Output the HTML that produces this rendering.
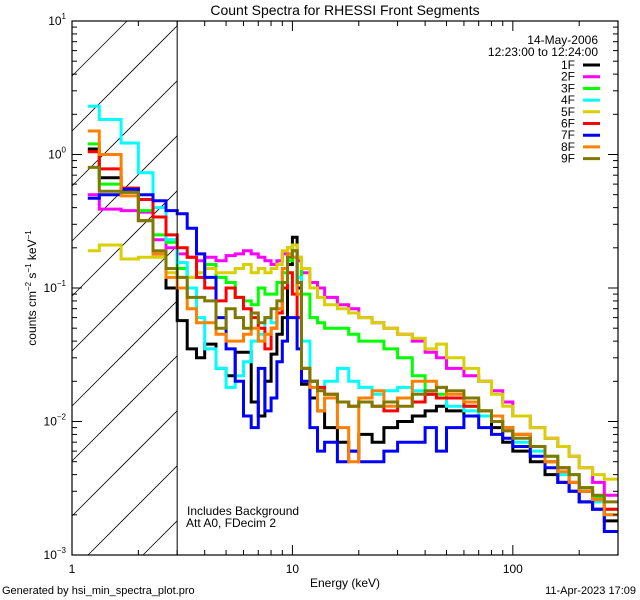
<!DOCTYPE html>
<html><head><meta charset="utf-8"><style>
html,body{margin:0;padding:0;background:#fff;width:640px;height:600px;overflow:hidden;}
svg{display:block;font-family:"Liberation Sans",sans-serif;}
</style></head><body>
<svg id="chart" width="640" height="600" viewBox="0 0 640 600">
<rect width="640" height="600" fill="#fff"/>
<defs><clipPath id="plotclip"><rect x="72" y="21" width="546" height="534"/></clipPath></defs>
<text x="345" y="15" text-anchor="middle" font-size="14">Count Spectra for RHESSI Front Segments</text>
<g id="hatch"></g>
<g id="series" clip-path="url(#plotclip)"></g>
<g id="axes"></g>
<text x="598" y="44" text-anchor="end" font-size="12">14-May-2006</text>
<text x="598" y="56" text-anchor="end" font-size="12">12:23:00 to 12:24:00</text>
<g id="legend"></g>
<text x="187" y="515" font-size="12">Includes Background</text>
<text x="186" y="527" font-size="12">Att A0, FDecim 2</text>
<text x="345" y="587" text-anchor="middle" font-size="12">Energy (keV)</text>
<text transform="translate(36,288) rotate(-90)" text-anchor="middle" font-size="12">counts cm<tspan dy="-5" font-size="8">−2</tspan><tspan dy="5"> s</tspan><tspan dy="-5" font-size="8">−1</tspan><tspan dy="5"> keV</tspan><tspan dy="-5" font-size="8">−1</tspan></text>
<text x="2" y="594" font-size="11">Generated by hsi_min_spectra_plot.pro</text>
<text x="636" y="594" text-anchor="end" font-size="11">11-Apr-2023 17:09</text>
</svg>
<script>
const edges=[1.18,1.33,1.67,2.0,2.33,2.67,3.0,3.33,3.67,4.0,4.5,5.0,5.5,6.0,6.5,7.0,7.5,8.0,8.5,9.0,9.5,10.0,10.5,11.0,12,13,14,16,18,20,23,26,30,35,40,45,50,60,70,80,90,100,120,140,160,180,200,230,260,300];
const seriesNames=["1F","2F","3F","4F","5F","6F","7F","8F","9F"];
const seriesColors=["#000000","#ff00ff","#00ff00","#00ffff","#d8d000","#ff0000","#0000ff","#ff8000","#807800"];
const s1F=[1.1,0.67,0.55,0.32,0.18,0.1,0.057,0.035,0.03,0.038,0.025,0.022,0.033,0.033,0.014,0.011,0.02,0.032,0.045,0.06,0.15,0.24,0.1,0.019,0.015,0.012,0.009,0.007,0.006,0.008,0.007,0.009,0.01,0.011,0.012,0.013,0.012,0.011,0.011,0.009,0.007,0.006,0.005,0.004,0.0035,0.003,0.0025,0.0022,0.0018];
const s2F=[0.5,0.39,0.38,0.37,0.23,0.2,0.18,0.17,0.16,0.17,0.16,0.175,0.18,0.19,0.18,0.17,0.16,0.15,0.16,0.18,0.2,0.19,0.16,0.13,0.11,0.1,0.085,0.075,0.07,0.06,0.055,0.05,0.045,0.04,0.033,0.03,0.025,0.022,0.02,0.017,0.014,0.011,0.009,0.0075,0.0065,0.0055,0.0045,0.0035,0.0028];
const s3F=[1.2,0.6,0.56,0.38,0.25,0.22,0.14,0.12,0.12,0.15,0.12,0.11,0.085,0.08,0.075,0.1,0.09,0.09,0.11,0.13,0.16,0.19,0.17,0.09,0.06,0.055,0.05,0.05,0.045,0.04,0.04,0.035,0.03,0.022,0.016,0.016,0.015,0.013,0.012,0.01,0.009,0.008,0.0065,0.0055,0.0045,0.004,0.0032,0.0027,0.0022];
const s4F=[2.3,1.83,1.22,0.73,0.4,0.23,0.155,0.1,0.06,0.035,0.025,0.018,0.022,0.028,0.04,0.045,0.06,0.055,0.07,0.11,0.17,0.17,0.12,0.04,0.02,0.018,0.02,0.025,0.02,0.018,0.016,0.017,0.018,0.017,0.016,0.015,0.013,0.012,0.011,0.01,0.009,0.007,0.006,0.005,0.004,0.0035,0.003,0.0025,0.002];
const s5F=[0.19,0.21,0.165,0.17,0.17,0.13,0.12,0.12,0.13,0.14,0.13,0.13,0.14,0.15,0.13,0.14,0.13,0.14,0.15,0.19,0.2,0.21,0.17,0.14,0.1,0.085,0.075,0.07,0.065,0.06,0.055,0.05,0.045,0.042,0.035,0.038,0.03,0.025,0.02,0.016,0.013,0.011,0.009,0.0075,0.0065,0.0055,0.0045,0.004,0.0037];
const s6F=[1.05,0.78,0.56,0.46,0.34,0.25,0.2,0.17,0.12,0.1,0.08,0.1,0.085,0.07,0.06,0.05,0.035,0.05,0.065,0.1,0.13,0.09,0.06,0.025,0.02,0.018,0.016,0.014,0.013,0.014,0.013,0.012,0.015,0.014,0.016,0.015,0.015,0.013,0.012,0.01,0.009,0.008,0.0065,0.005,0.0045,0.0035,0.003,0.0026,0.0022];
const s7F=[0.47,0.5,0.55,0.5,0.45,0.38,0.36,0.28,0.18,0.12,0.06,0.035,0.02,0.011,0.009,0.025,0.012,0.015,0.028,0.04,0.06,0.06,0.035,0.02,0.009,0.006,0.007,0.005,0.006,0.005,0.005,0.006,0.007,0.007,0.009,0.006,0.009,0.011,0.009,0.008,0.0075,0.0065,0.0055,0.0045,0.0035,0.003,0.0025,0.0022,0.0015];
const s8F=[1.5,1.0,0.49,0.32,0.18,0.12,0.1,0.07,0.055,0.055,0.045,0.04,0.04,0.045,0.05,0.04,0.045,0.05,0.07,0.14,0.18,0.17,0.09,0.025,0.018,0.012,0.015,0.009,0.005,0.015,0.017,0.013,0.015,0.02,0.02,0.018,0.016,0.014,0.012,0.011,0.009,0.008,0.0065,0.005,0.0042,0.0035,0.003,0.0026,0.002];
const s9F=[0.8,0.53,0.52,0.32,0.19,0.14,0.12,0.085,0.085,0.08,0.05,0.07,0.06,0.05,0.065,0.055,0.06,0.07,0.08,0.11,0.17,0.19,0.11,0.025,0.02,0.017,0.016,0.014,0.013,0.014,0.013,0.014,0.013,0.016,0.017,0.018,0.017,0.015,0.012,0.01,0.0085,0.0075,0.0065,0.0055,0.0045,0.004,0.0032,0.0028,0.0025];
const allSeries=[s1F,s2F,s3F,s4F,s5F,s6F,s7F,s8F,s9F];
const xTickLabels=["1","10","100"];
const yTickExps=["1","0","−1","−2","−3"];

const NS="http://www.w3.org/2000/svg";
const X0=72,X1=618,Y0=21,Y1=555;
const xmin=0,xmax=Math.log10(300);
const ymax=1,ymin=-3;
function xs(e){return X0+(Math.log10(e)-xmin)/(xmax-xmin)*(X1-X0);}
function ys(v){return Y0+(ymax-Math.log10(v))/(ymax-ymin)*(Y1-Y0);}
function mk(tag,attrs,parent){const el=document.createElementNS(NS,tag);for(const k in attrs)el.setAttribute(k,attrs[k]);parent.appendChild(el);return el;}

// hatch lines: y = c - (x - X0), clipped to [X0, xs(3)] x [Y0, Y1]
const hatch=document.getElementById('hatch');
const HX1=xs(3);
for(let i=-2;i<16;i++){
  const c=Y0+i*55;
  let xa=Math.max(X0, X0+c-Y1), xb=Math.min(HX1, X0+c-Y0);
  if(xb<=xa) continue;
  const ln=mk('line',{x1:xa,y1:c-(xa-X0),x2:xb,y2:c-(xb-X0),stroke:'#000','stroke-width':0.8},hatch);
  
  
}
const sg=document.getElementById('series');
allSeries.forEach((vals,si)=>{
  let d='';
  for(let i=0;i<vals.length;i++){
    const xa=xs(edges[i]).toFixed(1),xb=xs(edges[i+1]).toFixed(1),y=ys(vals[i]).toFixed(1);
    d+=(i===0?'M':'L')+xa+','+y+'L'+xb+','+y;
  }
  const p=mk('path',{d:d,fill:'none',stroke:seriesColors[si],'stroke-width':3,'stroke-linejoin':'miter'},sg);
  
  
});
const ag=document.getElementById('axes');
const frame=mk('rect',{x:X0,y:Y0,width:X1-X0,height:Y1-Y0,fill:'none',stroke:'#000','stroke-width':1.2},ag);


const cut=mk('line',{x1:HX1,y1:Y0,x2:HX1,y2:Y1,stroke:'#000','stroke-width':1},ag);


for(let dec=0;dec<3;dec++){
  for(let m=1;m<10;m++){
    const e=m*Math.pow(10,dec); if(e>300)break;
    const x=xs(e),L=m===1?10:5;
    const t1=mk('line',{x1:x,y1:Y1,x2:x,y2:Y1-L,stroke:'#000'},ag);
    
    
    const t2=mk('line',{x1:x,y1:Y0,x2:x,y2:Y0+L,stroke:'#000'},ag);
    
    
  }
  const lab=mk('text',{x:xs(Math.pow(10,dec)),y:573,'text-anchor':'middle','font-size':12},ag);
  lab.textContent=xTickLabels[dec];
  
  
}
for(let dec=-3;dec<1;dec++){
  for(let m=1;m<10;m++){
    const v=m*Math.pow(10,dec);
    const y=ys(v),L=m===1?10:5;
    const t1=mk('line',{x1:X0,y1:y,x2:X0+L,y2:y,stroke:'#000'},ag);
    
    
    const t2=mk('line',{x1:X1,y1:y,x2:X1-L,y2:y,stroke:'#000'},ag);
    
    
  }
}
for(let k=0;k<5;k++){
  const y=ys(Math.pow(10,1-k));
  const lab=mk('text',{x:66,y:y+4,'text-anchor':'end','font-size':12},ag);
  
  
  const s1=mk('tspan',{},lab);s1.textContent='10';
  const s2=mk('tspan',{dy:-6,'font-size':8},lab);s2.textContent=yTickExps[k];
}
const lg=document.getElementById('legend');
seriesNames.forEach((n,i)=>{
  const y=65+i*11.7;
  const g=mk('g',{},lg);
  
  
  const t=mk('text',{x:575,y:y+4,'text-anchor':'end','font-size':12},g);t.textContent=n;
  mk('line',{x1:583,y1:y,x2:600,y2:y,stroke:seriesColors[i],'stroke-width':3},g);
});
</script>
</body></html>
